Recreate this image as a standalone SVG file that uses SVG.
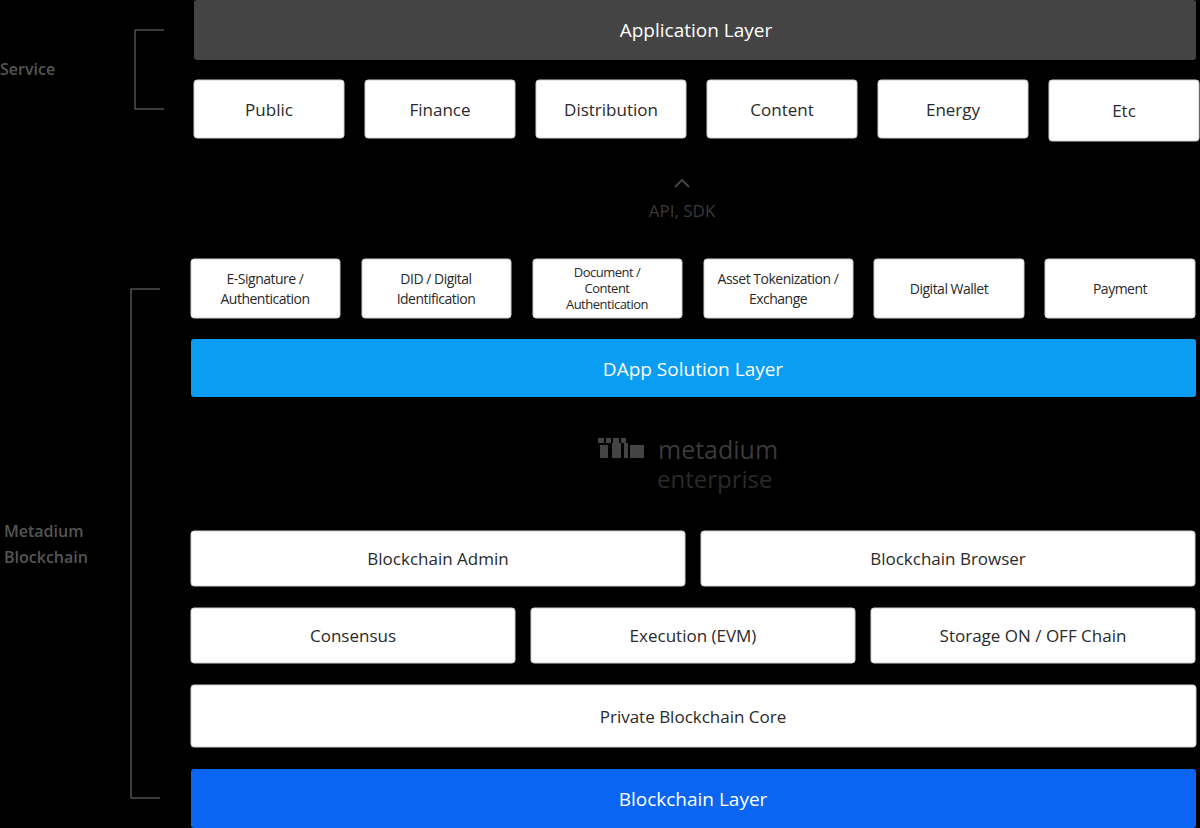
<svg xmlns="http://www.w3.org/2000/svg" width="1200" height="828" viewBox="0 0 1200 828">
<style>
.b{fill:#fff;stroke:#cfcfcf;stroke-width:1}
.t{font-family:"Open Sans","Liberation Sans",sans-serif;font-size:17px;font-weight:500;fill:#2a2a2a;text-anchor:middle;dominant-baseline:central}
.s{font-size:14px;letter-spacing:-0.5px}
.d{font-size:13px}
.w{fill:#fff;font-size:19px}
.g{font-family:"Open Sans","Liberation Sans",sans-serif;font-size:16px;fill:#555;font-weight:600}
.br{fill:none;stroke:#777;stroke-width:1}
</style>
<rect width="1200" height="828" fill="#000"/>
<g id="labels">
<text class="g" x="0" y="75">Service</text>
<text class="g" x="4" y="537">Metadium</text>
<text class="g" x="4" y="563">Blockchain</text>
</g>
<g id="connectors">
<path class="br" d="M164 30H135V109H164"/>
<path class="br" d="M160 289H131V798H160"/>
<path d="M675 187L682 180L689 187" fill="none" stroke="#444" stroke-width="2"/>
<text class="t" x="682" y="210" style="fill:#3a3a3a">API, SDK</text>
</g>
<g id="app"><rect x="194" y="0" width="1002" height="60" rx="3" fill="#444"/><text class="t w" x="696" y="30">Application Layer</text></g>
<g id="svc">
<rect class="b" x="194" y="80" width="150" height="58" rx="3"/><text class="t" x="269" y="109">Public</text>
<rect class="b" x="365" y="80" width="150" height="58" rx="3"/><text class="t" x="440" y="109">Finance</text>
<rect class="b" x="536" y="80" width="150" height="58" rx="3"/><text class="t" x="611" y="109">Distribution</text>
<rect class="b" x="707" y="80" width="150" height="58" rx="3"/><text class="t" x="782" y="109">Content</text>
<rect class="b" x="878" y="80" width="150" height="58" rx="3"/><text class="t" x="953" y="109">Energy</text>
<rect class="b" x="1049" y="80" width="150" height="61" rx="3"/><text class="t" x="1124" y="110">Etc</text>
</g>
<g id="dapps">
<rect class="b" x="191" y="259" width="149" height="59" rx="3"/><text class="t s" x="265" y="278">E-Signature /</text><text class="t s" x="265" y="298">Authentication</text>
<rect class="b" x="362" y="259" width="149" height="59" rx="3"/><text class="t s" x="436" y="278">DID / Digital</text><text class="t s" x="436" y="298">Identification</text>
<rect class="b" x="533" y="259" width="149" height="59" rx="3"/><text class="t s d" x="607" y="272">Document /</text><text class="t s d" x="607" y="288">Content</text><text class="t s d" x="607" y="304">Authentication</text>
<rect class="b" x="704" y="259" width="149" height="59" rx="3"/><text class="t s" x="778" y="278">Asset Tokenization /</text><text class="t s" x="778" y="298">Exchange</text>
<rect class="b" x="874" y="259" width="150" height="59" rx="3"/><text class="t s" x="949" y="288">Digital Wallet</text>
<rect class="b" x="1045" y="259" width="150" height="59" rx="3"/><text class="t s" x="1120" y="288">Payment</text>
</g>
<g id="dapplayer"><rect x="191" y="339" width="1005" height="58" rx="3" fill="#0a9df2"/><text class="t w" x="693" y="369">DApp Solution Layer</text></g>
<g id="logo" fill="#444">
<rect x="598" y="438" width="6" height="5"/><rect x="606" y="438" width="5" height="5"/><rect x="613" y="438" width="6" height="5"/><rect x="621" y="438" width="5" height="5"/>
<rect x="600" y="445" width="8" height="13"/><rect x="612" y="443" width="9" height="15"/><rect x="624" y="443" width="4" height="15"/><rect x="630" y="445" width="14" height="13"/>
<text x="658" y="459" font-family="'Open Sans','Liberation Sans',sans-serif" font-size="25" fill="#3a3a3a">metadium</text>
<text x="657" y="488" font-family="'Open Sans','Liberation Sans',sans-serif" font-size="24" fill="#2a2a2a">enterprise</text>
</g>
<g id="admin">
<rect class="b" x="191" y="531" width="494" height="55" rx="3"/><text class="t" x="438" y="558">Blockchain Admin</text>
<rect class="b" x="701" y="531" width="494" height="55" rx="3"/><text class="t" x="948" y="558">Blockchain Browser</text>
</g>
<g id="core3">
<rect class="b" x="191" y="608" width="324" height="55" rx="3"/><text class="t" x="353" y="635">Consensus</text>
<rect class="b" x="531" y="608" width="324" height="55" rx="3"/><text class="t" x="693" y="635">Execution (EVM)</text>
<rect class="b" x="871" y="608" width="324" height="55" rx="3"/><text class="t" x="1033" y="635">Storage ON / OFF Chain</text>
</g>
<g id="core"><rect class="b" x="191" y="685" width="1005" height="62" rx="3"/><text class="t" x="693" y="716">Private Blockchain Core</text></g>
<g id="bclayer"><rect x="191" y="769" width="1005" height="59" rx="3" fill="#0a66f2"/><text class="t w" x="693" y="799">Blockchain Layer</text></g>
</svg>
